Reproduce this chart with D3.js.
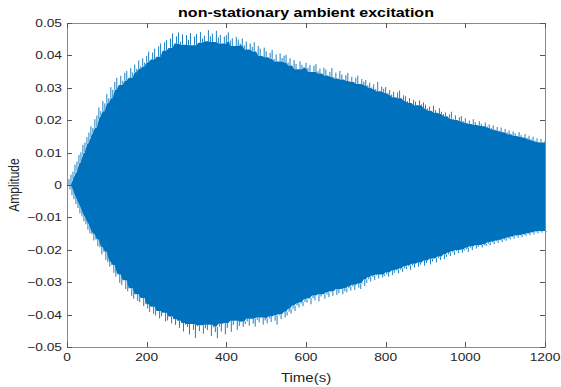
<!DOCTYPE html>
<html>
<head>
<meta charset="utf-8">
<script src="https://cdn.jsdelivr.net/npm/d3@7/dist/d3.min.js"></script>
<style>
  body { margin: 0; background: #fff; }
  svg { display: block; }
  .tick-label { font-family: "Liberation Sans", Arial, sans-serif; font-size: 11px; fill: #262626; }
  .title { font-family: "Liberation Sans", Arial, sans-serif; font-size: 12.5px; font-weight: bold; fill: #000; }
</style>
</head>
<body>
<svg id="chart" width="561" height="387"></svg>
<script>
// sampling step of the envelope below (seconds)
const sampleStep = 5;

// per-bin positive peaks, 0..1200 s every 5 s
const upperPeaks = [
  0, 0.0018, 0.0032, 0.0041, 0.0063, 0.0072, 0.0093, 0.0101, 0.0124, 0.0131,
  0.0148, 0.0162, 0.0181, 0.0176, 0.0203, 0.0214, 0.0239, 0.0228, 0.0259, 0.0252,
  0.0281, 0.0268, 0.0302, 0.0294, 0.0318, 0.0331, 0.0309, 0.0337, 0.0322, 0.0346,
  0.0352, 0.0331, 0.0361, 0.0348, 0.0372, 0.0359, 0.0384, 0.0366, 0.0391, 0.0378,
  0.0398, 0.0412, 0.0387, 0.0409, 0.0421, 0.0396, 0.0428, 0.0437, 0.0414, 0.0441,
  0.0447, 0.0423, 0.0452, 0.0468, 0.0437, 0.0459, 0.0471, 0.0442, 0.0465, 0.0433,
  0.0462, 0.0448, 0.0469, 0.0431, 0.0458, 0.0466, 0.0439, 0.0472, 0.0452, 0.0461,
  0.0444, 0.0478, 0.0459, 0.0467, 0.0441, 0.0476, 0.0455, 0.0463, 0.0437, 0.0458,
  0.0462, 0.0471, 0.0446, 0.0453, 0.0429, 0.0457, 0.0449, 0.0436, 0.0452, 0.0431,
  0.0443, 0.0418, 0.0437, 0.0426, 0.0441, 0.0412, 0.0429, 0.0421, 0.0398, 0.0424,
  0.0413, 0.0394, 0.0408, 0.0417, 0.0389, 0.0403, 0.0381, 0.0406, 0.0392, 0.0399,
  0.0402, 0.0378, 0.0391, 0.0369, 0.0386, 0.0374, 0.0357, 0.0382, 0.0371, 0.0364,
  0.0377, 0.0362, 0.0371, 0.0349, 0.0368, 0.0373, 0.0351, 0.0359, 0.0344, 0.0362,
  0.0356, 0.0338, 0.0349, 0.0361, 0.0333, 0.0347, 0.0329, 0.0352, 0.0341, 0.0326,
  0.0339, 0.0346, 0.0321, 0.0334, 0.0318, 0.0331, 0.0337, 0.0312, 0.0327, 0.0319,
  0.0324, 0.0308, 0.0316, 0.0301, 0.0311, 0.0296, 0.0318, 0.0289, 0.0304, 0.0297,
  0.0302, 0.0284, 0.0293, 0.0279, 0.0288, 0.0271, 0.0286, 0.0292, 0.0268, 0.0277,
  0.0274, 0.0259, 0.0268, 0.0253, 0.0263, 0.0257, 0.0246, 0.0261, 0.0249, 0.0255,
  0.0248, 0.0236, 0.0242, 0.0229, 0.0245, 0.0231, 0.0223, 0.0237, 0.0226, 0.0219,
  0.0224, 0.0212, 0.0218, 0.0226, 0.0204, 0.0215, 0.0201, 0.0209, 0.0213, 0.0197,
  0.0206, 0.0192, 0.0199, 0.0188, 0.0203, 0.0194, 0.0185, 0.0197, 0.0189, 0.0182,
  0.0193, 0.0181, 0.0187, 0.0176, 0.0184, 0.0171, 0.0179, 0.0168, 0.0177, 0.0164,
  0.0173, 0.0162, 0.0168, 0.0157, 0.0165, 0.0159, 0.0151, 0.0163, 0.0154, 0.0148,
  0.0157, 0.0146, 0.0152, 0.0141, 0.0149, 0.0137, 0.0144, 0.0133, 0.0142, 0.0131, 0.0136
];

// per-bin negative peaks, 0..1200 s every 5 s
const lowerPeaks = [
  0, -0.0014, -0.0031, -0.0044, -0.0059, -0.0071, -0.0088, -0.0097, -0.0112, -0.0121,
  -0.0138, -0.0149, -0.0152, -0.0171, -0.0168, -0.0189, -0.0192, -0.0214, -0.0206, -0.0231,
  -0.0238, -0.0252, -0.0247, -0.0271, -0.0283, -0.0276, -0.0302, -0.0309, -0.0294, -0.0321,
  -0.0328, -0.0319, -0.0342, -0.0351, -0.0337, -0.0358, -0.0362, -0.0349, -0.0374, -0.0368,
  -0.0381, -0.0392, -0.0376, -0.0398, -0.0403, -0.0389, -0.0412, -0.0405, -0.0394, -0.0421,
  -0.0418, -0.0406, -0.0427, -0.0414, -0.0432, -0.0419, -0.0441, -0.0426, -0.0452, -0.0431,
  -0.0438, -0.0461, -0.0429, -0.0447, -0.0472, -0.0436, -0.0451, -0.0433, -0.0459, -0.0442,
  -0.0448, -0.0431, -0.0466, -0.0439, -0.0454, -0.0473, -0.0437, -0.0452, -0.0428, -0.0461,
  -0.0441, -0.0426, -0.0453, -0.0432, -0.0419, -0.0447, -0.0435, -0.0422, -0.0438, -0.0429,
  -0.0421, -0.0434, -0.0413, -0.0428, -0.0437, -0.0416, -0.0424, -0.0409, -0.0431, -0.0418,
  -0.0427, -0.0412, -0.0423, -0.0406, -0.0419, -0.0431, -0.0402, -0.0414, -0.0398, -0.0409,
  -0.0403, -0.0391, -0.0397, -0.0382, -0.0389, -0.0372, -0.0378, -0.0366, -0.0374, -0.0361,
  -0.0363, -0.0352, -0.0368, -0.0349, -0.0356, -0.0341, -0.0359, -0.0344, -0.0337, -0.0351,
  -0.0338, -0.0346, -0.0331, -0.0342, -0.0327, -0.0339, -0.0334, -0.0321, -0.0337, -0.0328,
  -0.0331, -0.0319, -0.0326, -0.0313, -0.0324, -0.0308, -0.0317, -0.0321, -0.0304, -0.0312,
  -0.0302, -0.0291, -0.0298, -0.0284, -0.0293, -0.0279, -0.0288, -0.0276, -0.0285, -0.0281,
  -0.0276, -0.0283, -0.0269, -0.0278, -0.0271, -0.0264, -0.0273, -0.0261, -0.0268, -0.0257,
  -0.0259, -0.0251, -0.0262, -0.0248, -0.0255, -0.0243, -0.0252, -0.0246, -0.0239, -0.0249,
  -0.0241, -0.0233, -0.0245, -0.0236, -0.0228, -0.0239, -0.0226, -0.0232, -0.0221, -0.0229,
  -0.0222, -0.0214, -0.0219, -0.0208, -0.0216, -0.0204, -0.0211, -0.0201, -0.0209, -0.0203,
  -0.0199, -0.0207, -0.0194, -0.0201, -0.0189, -0.0196, -0.0191, -0.0185, -0.0193, -0.0186,
  -0.0188, -0.0182, -0.0186, -0.0177, -0.0183, -0.0174, -0.0179, -0.0171, -0.0176, -0.0169,
  -0.0172, -0.0165, -0.0168, -0.0161, -0.0166, -0.0158, -0.0163, -0.0155, -0.0161, -0.0154,
  -0.0157, -0.0151, -0.0155, -0.0148, -0.0153, -0.0146, -0.0149, -0.0143, -0.0147, -0.0142, -0.0145
];

const xTicks = [0, 200, 400, 600, 800, 1000, 1200];
const yTicks = [-0.05, -0.04, -0.03, -0.02, -0.01, 0, 0.01, 0.02, 0.03, 0.04, 0.05];

const titleText = 'non-stationary ambient excitation';
const xLabelText = 'Time(s)';
const yLabelText = 'Amplitude';

const lineColor = '#0072BD';
const axisColor = '#8a8a8a';
const textStretch = 1.25;

const margin = { top: 23, right: 16, bottom: 40, left: 67 };
const width = 561 - margin.left - margin.right;
const height = 387 - margin.top - margin.bottom;

const svg = d3.select('#chart');
const g = svg.append('g').attr('transform', `translate(${margin.left},${margin.top})`);

const xScale = d3.scaleLinear().domain([0, 1200]).range([0, width]);
const yScale = d3.scaleLinear().domain([-0.05, 0.05]).range([height, 0]);

// solid core = smallest peak among neighbours, the rest shows as spikes
const coreWindow = 2;
const samples = upperPeaks.map((u, i) => {
  const lo = Math.max(0, i - coreWindow);
  const hi = Math.min(upperPeaks.length, i + coreWindow + 1);
  return {
    t: i * sampleStep,
    hi: u,
    lo: lowerPeaks[i],
    coreHi: d3.min(upperPeaks.slice(lo, hi)),
    coreLo: d3.max(lowerPeaks.slice(lo, hi))
  };
});

// signal body
g.append('path')
  .datum(samples)
  .attr('fill', lineColor)
  .attr('d', d3.area()
    .x((d) => xScale(d.t))
    .y0((d) => yScale(d.coreLo))
    .y1((d) => yScale(d.coreHi)));

// thin spikes at each peak, like the individual samples of the trace
const spikes = g.append('g').attr('stroke', lineColor).attr('stroke-width', 0.9);
spikes.selectAll('line.up')
  .data(samples)
  .enter()
  .append('line')
  .attr('class', 'up')
  .attr('x1', (d) => xScale(d.t))
  .attr('x2', (d) => xScale(d.t))
  .attr('y1', (d) => yScale(d.coreHi))
  .attr('y2', (d) => yScale(d.hi));
spikes.selectAll('line.down')
  .data(samples)
  .enter()
  .append('line')
  .attr('class', 'down')
  .attr('x1', (d) => xScale(d.t + sampleStep / 2))
  .attr('x2', (d) => xScale(d.t + sampleStep / 2))
  .attr('y1', (d) => yScale(d.coreLo))
  .attr('y2', (d) => yScale(d.lo));

// box
g.append('rect')
  .attr('x', 0.5)
  .attr('y', 0.5)
  .attr('width', width)
  .attr('height', height)
  .attr('fill', 'none')
  .attr('stroke', axisColor)
  .attr('stroke-width', 1);

const tickLen = 5;

// x ticks (bottom and top, inward)
const xTickGroup = g.append('g');
xTicks.forEach((t) => {
  const x = Math.round(xScale(t)) + 0.5;
  xTickGroup.append('line').attr('x1', x).attr('x2', x).attr('y1', height).attr('y2', height - tickLen).attr('stroke', '#555');
  xTickGroup.append('line').attr('x1', x).attr('x2', x).attr('y1', 0).attr('y2', tickLen).attr('stroke', '#555');
});

// y ticks (left and right, inward)
const yTickGroup = g.append('g');
yTicks.forEach((v) => {
  const y = Math.round(yScale(v)) + 0.5;
  yTickGroup.append('line').attr('x1', 0).attr('x2', tickLen).attr('y1', y).attr('y2', y).attr('stroke', '#555');
  yTickGroup.append('line').attr('x1', width).attr('x2', width - tickLen).attr('y1', y).attr('y2', y).attr('stroke', '#555');
});

// tick labels, stretched wide like the source figure
g.append('g')
  .selectAll('text')
  .data(xTicks)
  .enter()
  .append('text')
  .attr('class', 'tick-label')
  .attr('text-anchor', 'middle')
  .attr('transform', (d) => `translate(${xScale(d)},${height + 14}) scale(${textStretch},1)`)
  .text((d) => d);

g.append('g')
  .selectAll('text')
  .data(yTicks)
  .enter()
  .append('text')
  .attr('class', 'tick-label')
  .attr('text-anchor', 'end')
  .attr('transform', (d) => `translate(-5,${yScale(d) + 4}) scale(${textStretch},1)`)
  .text((d) => (d === 0 ? '0' : d3.format('.2f')(d)));

// title
svg.append('text')
  .attr('class', 'title')
  .attr('text-anchor', 'middle')
  .attr('transform', `translate(${margin.left + width / 2},17) scale(1.28,1)`)
  .text(titleText);

// axis labels
svg.append('text')
  .attr('class', 'tick-label')
  .style('font-size', '12px')
  .attr('text-anchor', 'middle')
  .attr('transform', `translate(${margin.left + width / 2},382) scale(${textStretch},1)`)
  .text(xLabelText);

svg.append('text')
  .attr('class', 'tick-label')
  .style('font-size', '12px')
  .attr('text-anchor', 'middle')
  .attr('transform', `translate(19,${margin.top + height / 2}) rotate(-90) scale(1,${textStretch})`)
  .text(yLabelText);
</script>
</body>
</html>
